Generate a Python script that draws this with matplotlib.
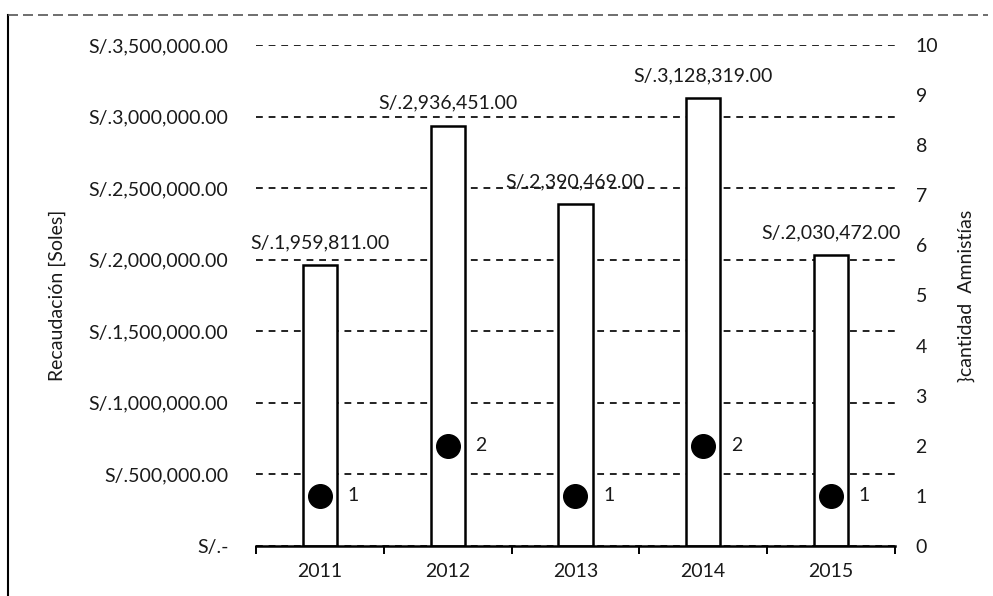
import matplotlib.pyplot as plt
from matplotlib.lines import Line2D
import numpy as np

# data
years = ["2011", "2012", "2013", "2014", "2015"]
recaudacion = [1959811.00, 2936451.00, 2390469.00, 3128319.00, 2030472.00]
amnistias = [1, 2, 1, 2, 1]

plt.rcParams['font.family'] = ['Lato', 'DejaVu Sans']
txt = '#1a1a1a'
fs = 14

def soles(v):
    if v == 0:
        return "S/.-"
    return "S/.{:,.2f}".format(v)

fig = plt.figure(figsize=(9.93, 5.96), dpi=100)
ax = fig.add_axes([0.258, 0.084, 0.643, 0.8405])
x = np.arange(len(years))

# dashed grid behind the bars
ax.set_axisbelow(True)
ax.yaxis.grid(True, linestyle=(0, (3.5, 3)), color='#222222', linewidth=1.4)
ax.bar(x, recaudacion, width=0.27, color='white', edgecolor='black', linewidth=1.8, zorder=2)

for xi, v in zip(x, recaudacion):
    ax.annotate(soles(v), (xi, v), xytext=(0, 10), textcoords='offset points',
                ha='center', va='bottom', fontsize=fs, color=txt)

ax.set_xlim(-0.5, len(years) - 0.5)
ax.set_ylim(0, 3500000)
yt = np.arange(0, 3500001, 500000)
ax.set_yticks(yt)
ax.set_yticklabels([soles(v) for v in yt], fontsize=fs, color=txt)
ax.set_xticks(x)
ax.set_xticklabels(years, fontsize=fs, color=txt)
ax.tick_params(axis='y', length=0, pad=20)
ax.tick_params(axis='x', length=0, pad=12)
# category separator ticks on the bottom axis
ax.set_xticks(np.arange(-0.5, len(years)), minor=True)
ax.tick_params(axis='x', which='minor', length=6, width=1.4, direction='out', color='black')
for s in ['top', 'right', 'left']:
    ax.spines[s].set_visible(False)
ax.spines['bottom'].set_linewidth(1.8)
ax.set_ylabel("Recaudación [Soles]", fontsize=fs, color=txt, labelpad=16)

ax2 = ax.twinx()
ax2.plot(x, amnistias, linestyle='none', marker='o', markersize=17, color='black', zorder=3)
for xi, n in zip(x, amnistias):
    ax2.annotate(str(n), (xi, n), xytext=(20, 0), textcoords='offset points',
                 ha='left', va='center', fontsize=fs, color=txt)
ax2.set_ylim(0, 10)
ax2.set_yticks(range(0, 11))
ax2.tick_params(axis='y', length=0, pad=15, labelsize=fs, labelcolor=txt)
for s in ['top', 'right', 'left', 'bottom']:
    ax2.spines[s].set_visible(False)
ax2.set_ylabel("}cantidad  Amnistías", fontsize=fs, color=txt, labelpad=14)

# scan frame
fig.add_artist(Line2D([0.008, 0.008], [0.0, 0.975], color='black', linewidth=1.5))
fig.add_artist(Line2D([0.008, 0.995], [0.975, 0.975], color='#555555', linewidth=1.2,
                      linestyle=(0, (6, 3))))

fig.savefig("out.png", dpi=100)
